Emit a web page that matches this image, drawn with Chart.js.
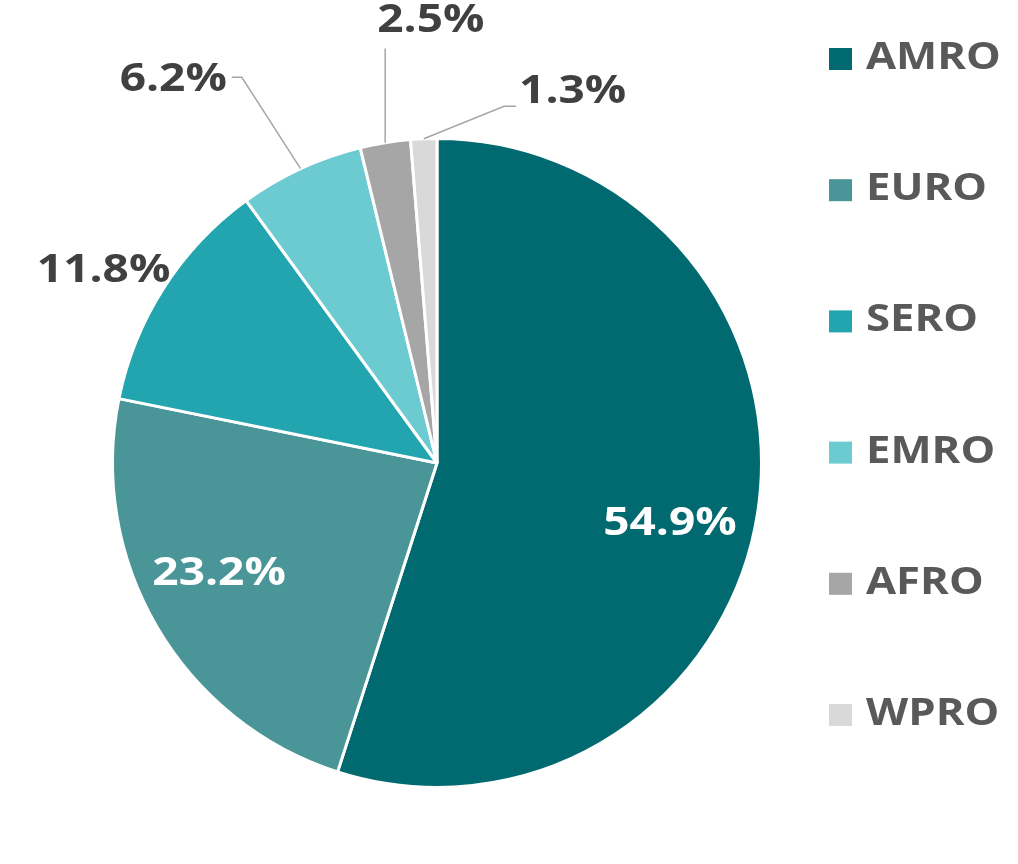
<!DOCTYPE html>
<html>
<head>
<meta charset="utf-8">
<script src="https://cdn.jsdelivr.net/npm/chart.js@4"></script>
<style>
  html, body { margin: 0; padding: 0; background: #fff; }
  #wrap { width: 1018px; height: 864px; }
</style>
</head>
<body>
<div id="wrap"><canvas id="pieChart" width="1018" height="864"></canvas></div>
<script>
// data
const regions = ["AMRO", "EURO", "SERO", "EMRO", "AFRO", "WPRO"];
const shares = [54.9, 23.2, 11.8, 6.2, 2.5, 1.3];
const colors = ["#006a70", "#4a9598", "#22a5ae", "#6ccad1", "#a6a6a6", "#d9d9d9"];

// label placement: angle shift (deg) from slice middle, distance as share of radius
const labelShift = [5.1, 3.9, -2.4, -9.5, 8.4, 22.3];
const labelDist = [0.74, 0.75, 1.19, 1.44, 1.37, 1.225];
const labelInside = [true, true, false, false, false, false];
const showLeader = [false, false, false, true, true, true];

const FONT = '"Open Sans", "Noto Sans", sans-serif';
const STRETCH = 1.18; // the original text is a wide face, widen Open Sans a bit

function wideText(ctx, txt, x, y, align) {
  const w = ctx.measureText(txt).width * STRETCH;
  let left = x;
  if (align === "center") left = x - w / 2;
  ctx.save();
  ctx.translate(left, y);
  ctx.scale(STRETCH, 1);
  ctx.textAlign = "left";
  ctx.fillText(txt, 0, 0);
  ctx.restore();
}

// percent labels + leader lines
const sliceLabels = {
  id: "sliceLabels",
  afterDatasetsDraw(chart) {
    const ctx = chart.ctx;
    const arcs = chart.getDatasetMeta(0).data;
    ctx.save();
    ctx.font = "bold 39px " + FONT;
    ctx.textBaseline = "alphabetic";
    arcs.forEach((arc, i) => {
      const p = arc.getProps(["x", "y", "startAngle", "endAngle", "outerRadius"], true);
      const mid = (p.startAngle + p.endAngle) / 2;
      const a = mid + labelShift[i] * Math.PI / 180;
      const r = p.outerRadius * labelDist[i];
      const cx = p.x + Math.cos(a) * r;
      const cy = p.y + Math.sin(a) * r;
      const txt = shares[i].toFixed(1) + "%";
      const w = ctx.measureText(txt).width * STRETCH;
      const h = 28;

      if (showLeader[i]) {
        const ex = p.x + Math.cos(mid) * p.outerRadius;
        const ey = p.y + Math.sin(mid) * p.outerRadius;
        const left = cx - w / 2, right = cx + w / 2;
        ctx.strokeStyle = "#a6a6a6";
        ctx.lineWidth = 1.5;
        ctx.beginPath();
        ctx.moveTo(ex, ey);
        if (ex >= left && ex <= right) {
          ctx.lineTo(ex, cy + h / 2 + 16);
        } else if (ex < left) {
          ctx.lineTo(left - 15, cy + 17);
          ctx.lineTo(left - 3, cy + 17);
        } else {
          ctx.lineTo(right + 15, cy);
          ctx.lineTo(right + 5, cy);
        }
        ctx.stroke();
      }

      ctx.fillStyle = labelInside[i] ? "#ffffff" : "#404040";
      wideText(ctx, txt, cx, cy + h / 2, "center");
    });
    ctx.restore();
  }
};

// legend on the right
const sideLegend = {
  id: "sideLegend",
  afterDraw(chart) {
    const ctx = chart.ctx;
    ctx.save();
    ctx.font = "bold 37px " + FONT;
    ctx.textBaseline = "alphabetic";
    regions.forEach((name, i) => {
      const base = 69 + i * 131.2;
      ctx.fillStyle = colors[i];
      ctx.fillRect(829, base - 21, 23, 22);
      ctx.fillStyle = "#595959";
      wideText(ctx, name, 866, base, "left");
    });
    ctx.restore();
  }
};

new Chart(document.getElementById("pieChart"), {
  type: "pie",
  data: {
    labels: regions,
    datasets: [{
      data: shares,
      backgroundColor: colors,
      borderColor: "#ffffff",
      borderWidth: 3
    }]
  },
  options: {
    responsive: false,
    animation: false,
    layout: { padding: { left: 111, right: 255, top: 137, bottom: 75 } },
    plugins: {
      legend: { display: false },
      tooltip: { enabled: false }
    }
  },
  plugins: [sliceLabels, sideLegend]
});
</script>
</body>
</html>
